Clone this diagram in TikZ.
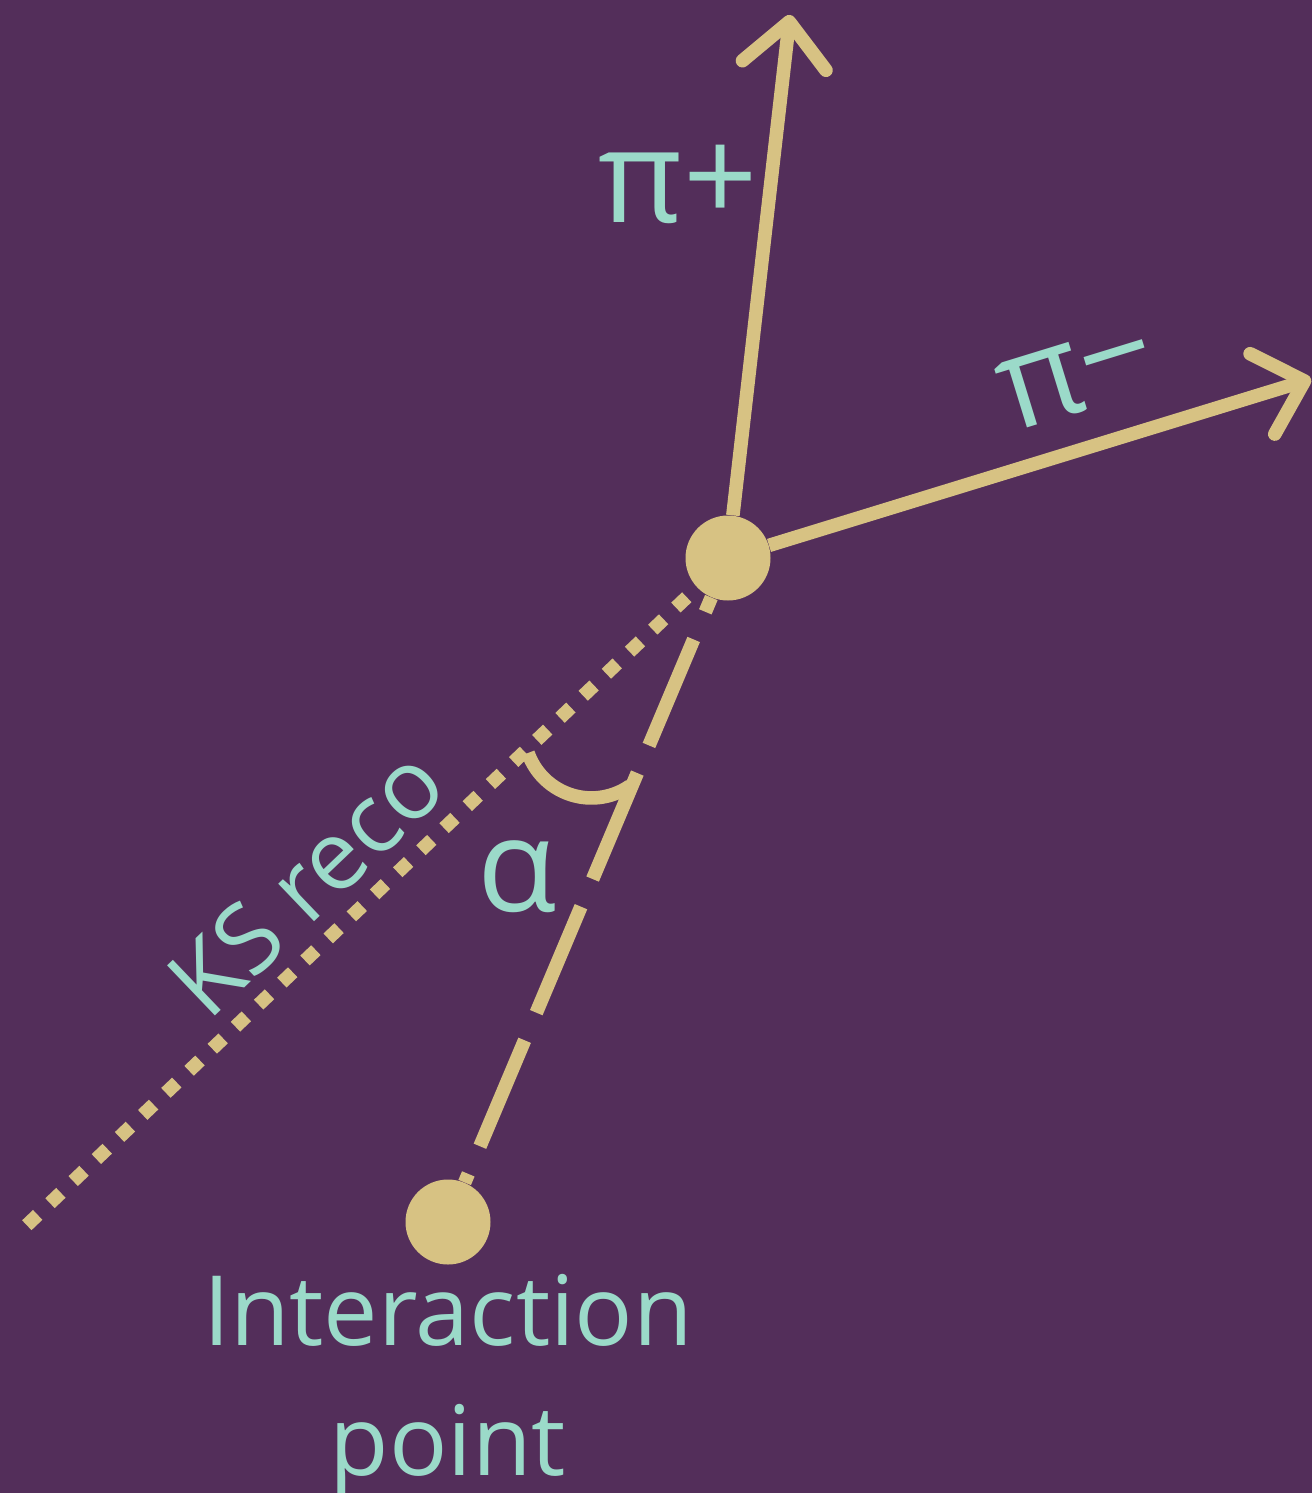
\documentclass[tikz,border=0pt]{standalone}
\usepackage{fontspec}
\setmainfont{Open Sans}
\usetikzlibrary{arrows.meta}
\definecolor{bgpurple}{HTML}{532E5A}
\definecolor{trackgold}{HTML}{D7C283}
\definecolor{labelteal}{HTML}{9BDAC9}

\begin{document}
\begin{tikzpicture}[x=0.5pt, y=-0.5pt,
    every node/.style={text=labelteal, inner sep=0pt},
    vertexdot/.style={circle, fill=trackgold, minimum size=42.5pt},
    track/.style={draw=trackgold, line width=6.8pt},
    pion/.style={track, -{Straight Barb[length=22pt, width=42pt, round]}},
    bigtext/.style={font=\fontsize{65}{88}\selectfont},
    smalltext/.style={font=\fontsize{48.5}{65}\selectfont}]
  \useasboundingbox (0,0) rectangle (1312,1493);
  \fill[bgpurple] (0,0) rectangle (1312,1493);
  % vertices
  \node[vertexdot] (decay) at (728,558) {};
  \node[vertexdot] (ip) at (448,1222) {};
  \coordinate (piplus) at (790,15);
  \coordinate (piminus) at (1311,379);
  \coordinate (ksend) at (26,1226);
  % tracks
  \draw[pion] (decay) -- (piplus);
  \draw[pion] (decay) -- (piminus);
  \draw[track, dash pattern=on 57.5pt off 15pt, dash phase=49.75pt] (decay) -- (ip);
  \draw[track, dash pattern=on 7.5pt off 8.5pt, dash phase=9pt] (decay) -- (ksend);
  % opening angle
  \draw[track] (528,753) arc[start angle=160.6, end angle=55, radius=67.3];
  % labels
  \node[bigtext, anchor=base] (piplustext) at (678,222) {π+};
  \node[bigtext, anchor=base, rotate=17.1] (piminustext) at (1088,409) {π−};
  \node[bigtext, anchor=base] (alphatext) at (517,911) {α};
  \node[smalltext, anchor=base, rotate=43.7] (kstext) at (330,907) {KS reco};
  \node[smalltext, anchor=base, align=center] (iptext) at (448,1475) {Interaction\\point};
\end{tikzpicture}
\end{document}
